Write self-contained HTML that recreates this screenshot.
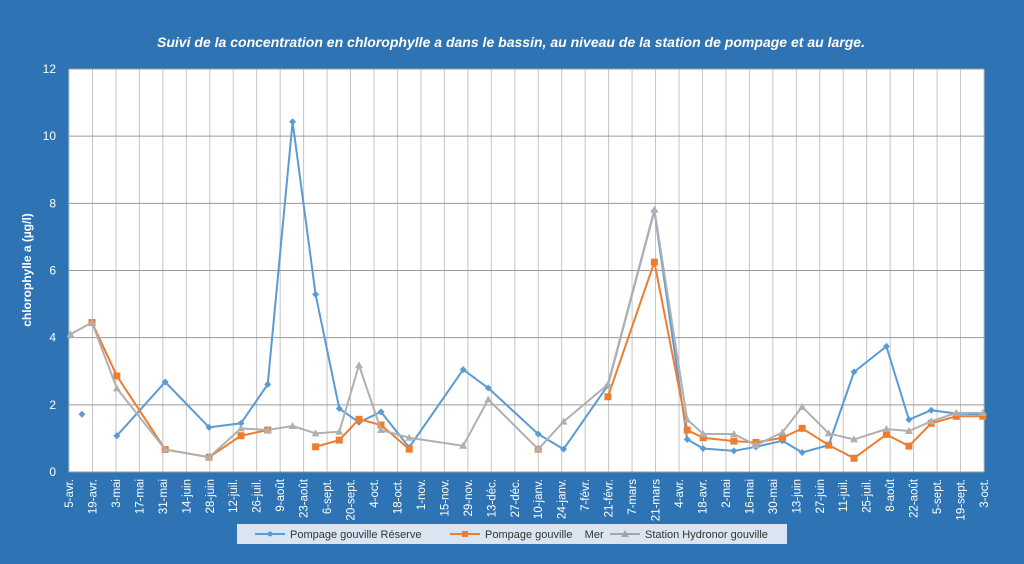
<!DOCTYPE html>
<html><head><meta charset="utf-8"><style>
html,body{margin:0;padding:0;background:#2e74b5;}
svg{display:block;font-family:"Liberation Sans",sans-serif;}
</style></head><body>
<svg id="chart" width="1024" height="564" viewBox="0 0 1024 564">
<rect x="0" y="0" width="1024" height="564" fill="#2e74b5"/>
<text x="511" y="47" text-anchor="middle" fill="#fff" font-size="14" font-style="italic" font-weight="bold" textLength="708" lengthAdjust="spacingAndGlyphs">Suivi de la concentration en chlorophylle a dans le bassin, au niveau de la station de pompage et au large.</text>
<text transform="translate(31,270) rotate(-90)" text-anchor="middle" fill="#fff" font-size="12" font-weight="bold">chlorophylle a (µg/l)</text>
<rect x="69" y="69" width="915" height="403" fill="#fff"/>
<g id="grid"></g><g id="ticks"></g><g id="series"></g>
<g>
<rect x="237" y="524" width="550" height="20" fill="#dbe5f1"/>
<g><line x1="255" y1="534" x2="285" y2="534" stroke="#5b9bd5" stroke-width="2"/><circle cx="270" cy="534" r="2.5" fill="#5b9bd5"/><text x="290" y="538" font-size="11" fill="#333">Pompage gouville Réserve</text></g>
<g><line x1="450" y1="534" x2="480" y2="534" stroke="#ed7d31" stroke-width="2"/><rect x="462" y="531" width="6" height="6" fill="#ed7d31"/><text x="485" y="538" font-size="11" fill="#333">Pompage gouville&#160;&#160;&#160;&#160;Mer</text></g>
<g><line x1="610" y1="534" x2="640" y2="534" stroke="#a5a5a5" stroke-width="2"/><polygon points="625,530 629,537 621,537" fill="#a5a5a5"/><text x="645" y="538" font-size="11" fill="#333">Station Hydronor gouville</text></g>
</g>
</svg>
<script>
const categories=["5-avr.","19-avr.","3-mai","17-mai","31-mai","14-juin","28-juin","12-juil.","26-juil.","9-août","23-août","6-sept.","20-sept.","4-oct.","18-oct.","1-nov.","15-nov.","29-nov.","13-déc.","27-déc.","10-janv.","24-janv.","7-févr.","21-févr.","7-mars","21-mars","4-avr.","18-avr.","2-mai","16-mai","30-mai","13-juin","27-juin","11-juil.","25-juil.","8-août","22-août","5-sept.","19-sept.","3-oct."];
const yTicks=[0,2,4,6,8,10,12];
// x in category-index units (fractional), null = gap
const reserveX=[0.55,null,2.04,4.1,5.97,7.33,8.47,9.53,10.51,11.52,12.36,13.3,14.5,16.8,17.87,20.0,21.08,22.97,24.95,26.35,27.03,28.34,29.28,30.41,31.25,32.38,33.46,34.84,35.8,36.75,37.82,38.95];
const reserveY=[1.72,null,1.08,2.68,1.33,1.45,2.61,10.43,5.29,1.89,1.48,1.79,0.73,3.05,2.5,1.13,0.68,2.58,7.78,0.97,0.7,0.63,0.75,0.93,0.58,0.8,2.98,3.74,1.56,1.84,1.74,1.72];
const merX=[0.98,2.04,4.1,5.97,7.33,8.47,null,10.51,11.52,12.36,13.3,14.5,null,20.0,null,22.97,24.95,26.35,27.03,28.34,29.28,30.41,31.25,32.38,33.46,34.84,35.8,36.75,37.82,38.95];
const merY=[4.45,2.86,0.67,0.44,1.08,1.25,null,0.75,0.95,1.57,1.4,0.68,null,0.68,null,2.24,6.25,1.25,1.02,0.92,0.88,1.02,1.3,0.8,0.41,1.12,0.77,1.45,1.66,1.66];
const hydroX=[0.06,0.98,2.04,4.1,5.97,7.33,8.47,9.53,10.51,11.52,12.36,13.3,14.5,16.8,17.87,20.0,21.08,22.97,24.95,26.35,27.03,28.34,29.28,30.41,31.25,32.38,33.46,34.84,35.8,36.75,37.82,38.95];
const hydroY=[4.1,4.45,2.49,0.67,0.44,1.3,1.25,1.37,1.15,1.2,3.18,1.25,1.02,0.78,2.16,0.68,1.5,2.61,7.81,1.56,1.13,1.13,0.8,1.18,1.94,1.15,0.97,1.28,1.22,1.51,1.76,1.76];

const NS="http://www.w3.org/2000/svg";
const X0=69,X1=984,Y0=472,Y1=69;
const step=(X1-X0)/(categories.length-1);
function xs(i){return X0+i*step;}
function ys(v){return Y0-(v/12)*(Y0-Y1);}
function mk(tag,attrs,parent){const e=document.createElementNS(NS,tag);for(const k in attrs)e.setAttribute(k,attrs[k]);parent.appendChild(e);return e;}
const grid=document.getElementById('grid'),ticks=document.getElementById('ticks'),ser=document.getElementById('series');
categories.forEach((c,i)=>{
  const l=mk('line',{x1:xs(i),x2:xs(i),y1:Y1,y2:Y0,stroke:'#c4c4c4','stroke-width':1},grid);
  
  
  const t=mk('text',{transform:`translate(${xs(i)+4},479) rotate(-90)`,'text-anchor':'end',fill:'#fff','font-size':'11.5'},ticks);
  t.textContent=c;
  
  
});
yTicks.forEach(v=>{
  const l=mk('line',{x1:X0,x2:X1,y1:ys(v),y2:ys(v),stroke:'#9a9a9a','stroke-width':1},grid);
  
  
  const t=mk('text',{x:56,y:ys(v)+4,'text-anchor':'end',fill:'#fff','font-size':'12'},ticks);
  t.textContent=v;
  
  
});
function drawSeries(xa,ya,color,marker,name){
  const g=mk('g',{},ser);
  
  
  let seg=[];
  const flush=()=>{if(seg.length>1){const p=mk('polyline',{points:seg.join(' '),fill:'none',stroke:color,'stroke-width':2},g);}seg=[];};
  xa.forEach((x,i)=>{
    if(x===null||ya[i]===null){flush();return;}
    seg.push(xs(x)+','+ys(ya[i]));
  });
  flush();
  xa.forEach((x,i)=>{
    if(x===null||ya[i]===null)return;
    const cx=xs(x),cy=ys(ya[i]);let m;
    if(marker==='d')m=mk('polygon',{points:`${cx},${cy-3.5} ${cx+3.5},${cy} ${cx},${cy+3.5} ${cx-3.5},${cy}`,fill:color},g);
    else if(marker==='s')m=mk('rect',{x:cx-3.5,y:cy-3.5,width:7,height:7,fill:color},g);
    else m=mk('polygon',{points:`${cx},${cy-4} ${cx+4},${cy+3} ${cx-4},${cy+3}`,fill:color},g);
    
    
  });
}
drawSeries(reserveX,reserveY,'#5b9bd5','d','series-reserve');
drawSeries(merX,merY,'#ed7d31','s','series-mer');
drawSeries(hydroX,hydroY,'#b0b0b0','t','series-hydronor');
</script>
</body></html>
